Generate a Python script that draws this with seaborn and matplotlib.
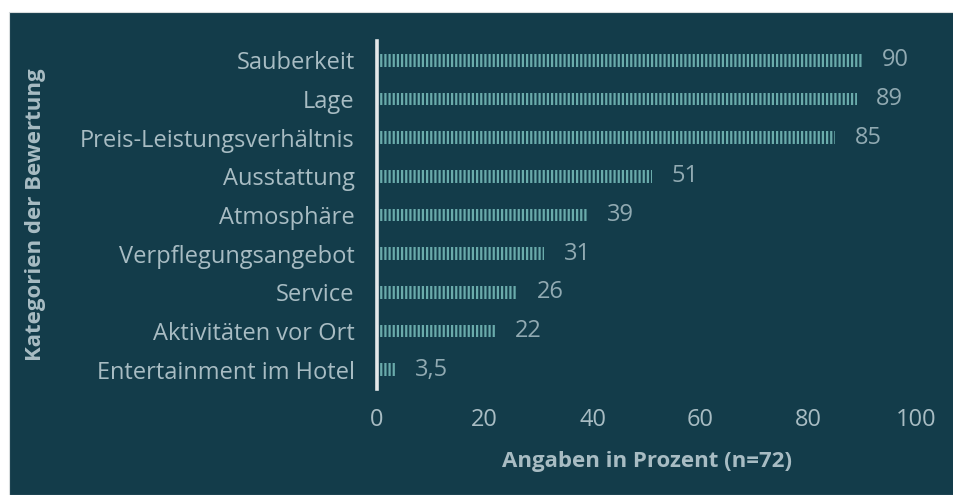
import matplotlib
matplotlib.use('Agg')
import matplotlib.pyplot as plt
import matplotlib.patches as mpatches
import pandas as pd
import seaborn as sns

# data
categories = ['Sauberkeit', 'Lage', 'Preis-Leistungsverhältnis', 'Ausstattung',
              'Atmosphäre', 'Verpflegungsangebot', 'Service',
              'Aktivitäten vor Ort', 'Entertainment im Hotel']
values = [90, 89, 85, 51, 39, 31, 26, 22, 3.5]
value_labels = ['90', '89', '85', '51', '39', '31', '26', '22', '3,5']
x_ticks = [0, 20, 40, 60, 80, 100]

df = pd.DataFrame({'Kategorie': categories, 'Prozent': values})

bg = '#133c4a'
bar_col = '#6aabab'
txt = '#a8bcc3'

sns.set_theme(style='white')
plt.rcParams['font.family'] = ['Open Sans', 'DejaVu Sans']
plt.rcParams['hatch.linewidth'] = 1.6

fig = plt.figure(figsize=(9.54, 4.95), dpi=100, facecolor='white')
# dark panel with a thin white margin at top and left
fig.patches.append(mpatches.Rectangle((9 / 954, 0), 1, 1 - 12 / 495,
                                      transform=fig.transFigure,
                                      facecolor=bg, edgecolor='#d8dcdd',
                                      linewidth=0.8, zorder=-10))
ax = fig.add_axes([377 / 954, 1 - 389 / 495, (916 - 377) / 954, (389 - 41) / 495])
ax.set_facecolor(bg)

sns.barplot(data=df, x='Prozent', y='Kategorie', orient='h', ax=ax,
            color=bg, width=0.33, saturation=1)
for p in ax.patches:
    p.set_hatch('||||')
    p.set_edgecolor(bar_col)
    p.set_linewidth(0)

for i, (v, lab) in enumerate(zip(values, value_labels)):
    ax.annotate(lab, (v, i), xytext=(14, 0), textcoords='offset points',
                va='center', ha='left', fontsize=17, color='#91aab2')

ax.set_xlim(0, 100)
ax.set_ylim(len(categories) - 0.5, -0.5)
ax.set_xticks(x_ticks)
ax.tick_params(axis='both', length=0, labelsize=17, colors=txt)
ax.tick_params(axis='x', pad=14)
ax.tick_params(axis='y', pad=16)
for s in ['top', 'right', 'bottom']:
    ax.spines[s].set_visible(False)
ax.spines['left'].set_color('#e4e8e9')
ax.spines['left'].set_linewidth(2.6)
ax.spines['left'].set_zorder(5)

ax.set_xlabel('Angaben in Prozent (n=72)', fontsize=16, fontweight='bold',
              color=txt, labelpad=13)
ax.set_ylabel('')
fig.text(36 / 954, 1 - 215 / 495, 'Kategorien der Bewertung', rotation=90,
         ha='center', va='center', fontsize=16, fontweight='bold', color=txt)

fig.savefig('out.png', dpi=100, facecolor='white')
